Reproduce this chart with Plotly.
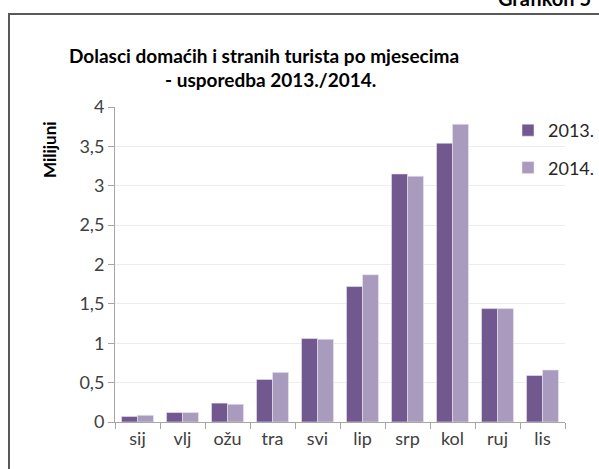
import plotly.graph_objects as go

months = ["sij", "vlj", "ožu", "tra", "svi", "lip", "srp", "kol", "ruj", "lis"]
y2013 = [0.07, 0.12, 0.24, 0.54, 1.06, 1.72, 3.15, 3.54, 1.44, 0.59]
y2014 = [0.085, 0.12, 0.225, 0.63, 1.05, 1.87, 3.12, 3.78, 1.44, 0.66]
ytick_vals = [0, 0.5, 1, 1.5, 2, 2.5, 3, 3.5, 4]
ytick_text = ["0", "0,5", "1", "1,5", "2", "2,5", "3", "3,5", "4"]

FONT = "Lato"
W, H = 599, 469
L, R, T, B = 115, 34, 107, 47
pw, ph = W - L - R, H - T - B

def px(x):
    return (x - L) / pw

def py(y):
    return (H - B - y) / ph

fig = go.Figure()
fig.add_trace(go.Bar(x=months, y=y2013, name="2013.", marker=dict(color="#71588F", line=dict(color="#E8E4EE", width=0.6)), legendgroup="a"))
fig.add_trace(go.Bar(x=months, y=y2014, name="2014.", marker=dict(color="#A99BBD", line=dict(color="#E8E4EE", width=0.6)), legendgroup="b"))

fig.update_layout(
    width=W, height=H,
    margin=dict(l=L, r=R, t=T, b=B, autoexpand=False),
    paper_bgcolor="white", plot_bgcolor="white",
    barmode="group", bargap=0.29, bargroupgap=0,
    font=dict(family=FONT, size=17, color="#404040"),
    showlegend=True,
    legend=dict(x=px(508), y=py(112), xanchor="left", yanchor="top",
                font=dict(family=FONT, size=18, color="#262626"),
                tracegroupgap=11, bgcolor="rgba(0,0,0,0)"),
    xaxis=dict(showline=True, linecolor="#A6A6A6", linewidth=1,
               ticks="outside", tickson="boundaries", ticklen=6, tickcolor="#A6A6A6",
               tickfont=dict(family=FONT, size=18, color="#404040"), showgrid=False),
    yaxis=dict(range=[0, 4], tickvals=ytick_vals, ticktext=ytick_text,
               showline=True, linecolor="#A6A6A6", linewidth=1,
               ticks="outside", ticklen=6, tickcolor="#A6A6A6",
               showgrid=True, gridcolor="#EDEDED", gridwidth=1,
               tickfont=dict(family=FONT, size=18, color="#404040"), zeroline=False),
)

fig.add_annotation(text="<b>Dolasci domaćih i stranih turista po mjesecima</b>",
                   xref="paper", yref="paper", x=px(264), y=py(56), showarrow=False,
                   font=dict(family=FONT, size=19, color="#000000"), xanchor="center", yanchor="middle")
fig.add_annotation(text="<b>- usporedba 2013./2014.</b>",
                   xref="paper", yref="paper", x=px(270), y=py(79), showarrow=False,
                   font=dict(family=FONT, size=19, color="#000000"), xanchor="center", yanchor="middle")
fig.add_annotation(text="<b>Milijuni</b>", textangle=-90,
                   xref="paper", yref="paper", x=px(49), y=py(150), showarrow=False,
                   font=dict(family=FONT, size=17, color="#000000"), xanchor="center", yanchor="middle")
fig.add_annotation(text="<b>Grafikon 5</b>",
                   xref="paper", yref="paper", x=px(593), y=py(12), showarrow=False,
                   font=dict(family=FONT, size=20, color="#000000"), xanchor="right", yanchor="bottom")

fig.add_shape(type="rect", xref="paper", yref="paper",
              x0=px(9), x1=px(640), y0=py(520), y1=py(14),
              line=dict(color="#595959", width=2), fillcolor="rgba(0,0,0,0)", layer="below")

fig.write_html("out.html", config={"displayModeBar": False},
               post_script="document.body.style.margin='0';document.body.style.overflow='hidden';")
